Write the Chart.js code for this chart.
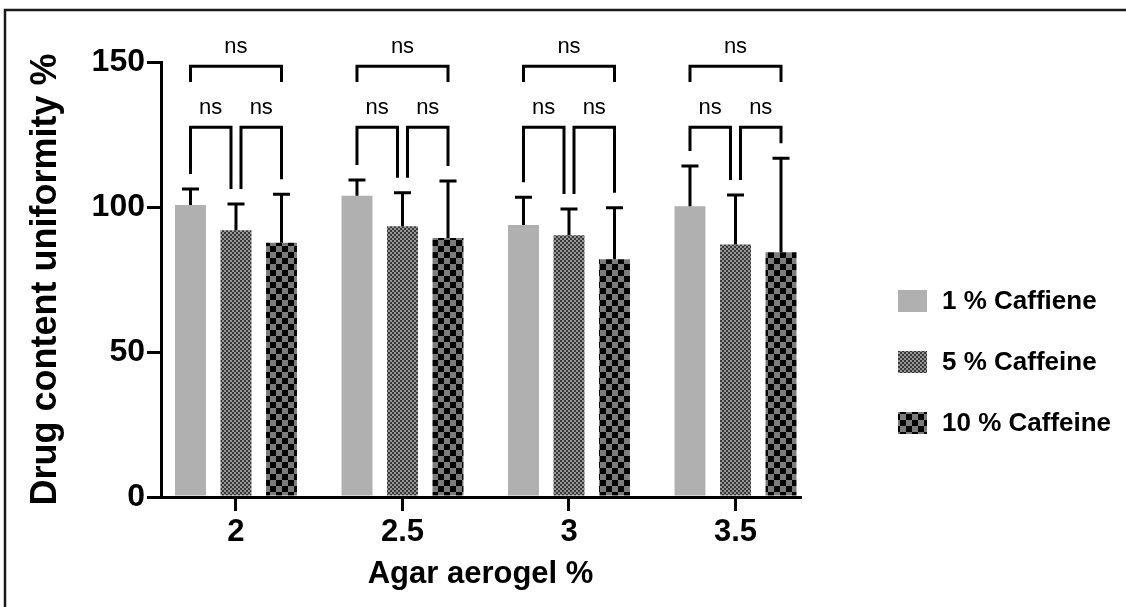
<!DOCTYPE html>
<html>
<head>
<meta charset="utf-8">
<title>Drug content uniformity</title>
<script src="https://cdn.jsdelivr.net/npm/chart.js@4.4.1/dist/chart.umd.min.js"></script>
<style>
  html, body { margin: 0; padding: 0; background: #fff; }
  #wrap { width: 1126px; height: 607px; }
</style>
</head>
<body>
<div id="wrap"><canvas id="uniformity" width="1126" height="607"></canvas></div>
<script>
// Agar aerogel concentrations (x) and tick text
const agarLevels = [2, 2.5, 3, 3.5];
const agarTickLabels = ['2', '2.5', '3', '3.5'];
const yTicks = [0, 50, 100, 150];

// Mean drug content (%) and SD per caffeine loading
const seriesLabels = ['1 % Caffiene', '5 % Caffeine', '10 % Caffeine'];
const caffeine1Mean = [100.7, 103.9, 93.8, 100.3];
const caffeine1Sd = [5.5, 5.4, 9.6, 13.8];
const caffeine5Mean = [92.0, 93.4, 90.3, 87.1];
const caffeine5Sd = [9.0, 11.5, 9.0, 17.0];
const caffeine10Mean = [87.7, 89.3, 82.0, 84.4];
const caffeine10Sd = [16.7, 19.7, 17.7, 32.4];

// significance label for every comparison (1-5, 5-10, 1-10)
const sigLabels = ['ns', 'ns', 'ns'];

const FONT = "Arial, 'Liberation Sans', Helvetica, sans-serif";

// hatch-like fills used by Prism style bars
function makePattern(size, bg, fg, squares) {
  const c = document.createElement('canvas');
  c.width = size; c.height = size;
  const g = c.getContext('2d');
  g.fillStyle = bg;
  g.fillRect(0, 0, size, size);
  g.fillStyle = fg;
  squares.forEach(s => g.fillRect(s[0], s[1], s[2], s[3]));
  return g.createPattern(c, 'repeat');
}

const ctx = document.getElementById('uniformity').getContext('2d');
const fineChecker = makePattern(4, '#959595', '#383838', [[0, 0, 2, 2], [2, 2, 2, 2]]);
const coarseChecker = makePattern(12, '#7c7c7c', '#000000', [[0, 0, 6, 6], [6, 6, 6, 6]]);

function toPoints(means) {
  return agarLevels.map((x, i) => ({ x: x, y: means[i] }));
}

// frame around the figure (only left/top edges visible)
const framePlugin = {
  id: 'frame',
  beforeDraw(chart) {
    const c = chart.ctx;
    c.save();
    c.strokeStyle = '#1a1a1a';
    c.lineWidth = 2.5;
    c.beginPath();
    c.moveTo(5, chart.height);
    c.lineTo(5, 10);
    c.lineTo(chart.width, 10);
    c.stroke();
    c.restore();
  }
};

// upper SD whiskers
const errorBarPlugin = {
  id: 'errorBars',
  afterDatasetsDraw(chart) {
    const c = chart.ctx;
    const y = chart.scales.y;
    c.save();
    c.strokeStyle = '#000';
    c.lineWidth = 3;
    chart.data.datasets.forEach((ds, di) => {
      const meta = chart.getDatasetMeta(di);
      meta.data.forEach((bar, i) => {
        const top = y.getPixelForValue(ds.data[i].y + ds.sd[i]);
        c.beginPath();
        c.moveTo(bar.x, bar.y);
        c.lineTo(bar.x, top);
        c.moveTo(bar.x - 8.5, top);
        c.lineTo(bar.x + 8.5, top);
        c.stroke();
      });
    });
    c.restore();
  }
};

// multiple-comparison brackets above each group
const bracketPlugin = {
  id: 'brackets',
  afterDatasetsDraw(chart) {
    const c = chart.ctx;
    const y = chart.scales.y;
    const sets = chart.data.datasets;
    const metas = sets.map((ds, di) => chart.getDatasetMeta(di));
    const lowY = y.getPixelForValue(127.5);
    const highY = y.getPixelForValue(148.5);
    const highLeg = y.getPixelForValue(143.1);
    c.save();
    c.strokeStyle = '#000';
    c.lineWidth = 3;
    c.lineCap = 'butt';
    c.fillStyle = '#000';
    c.font = '22px ' + FONT;
    c.textAlign = 'center';
    c.textBaseline = 'middle';
    agarLevels.forEach((lvl, i) => {
      const xs = metas.map(m => m.data[i].x);
      const legs = sets.map(ds => y.getPixelForValue(ds.data[i].y + ds.sd[i]) - 15);
      const pairs = [[xs[0], legs[0], xs[1] - 5, legs[1]], [xs[1] + 5, legs[1], xs[2], legs[2]]];
      pairs.forEach((p, k) => {
        c.beginPath();
        c.moveTo(p[0], p[1]);
        c.lineTo(p[0], lowY);
        c.lineTo(p[2], lowY);
        c.lineTo(p[2], p[3]);
        c.stroke();
        c.fillText(sigLabels[k], (p[0] + p[2]) / 2, y.getPixelForValue(134));
      });
      c.beginPath();
      c.moveTo(xs[0], highLeg);
      c.lineTo(xs[0], highY);
      c.lineTo(xs[2], highY);
      c.lineTo(xs[2], highLeg);
      c.stroke();
      c.fillText(sigLabels[2], (xs[0] + xs[2]) / 2, y.getPixelForValue(155.2));
    });
    c.restore();
  }
};

// legend on the right with pattern swatches
const sideLegendPlugin = {
  id: 'sideLegend',
  afterDraw(chart) {
    const c = chart.ctx;
    const rows = [301, 362, 423];
    c.save();
    c.font = 'bold 26px ' + FONT;
    c.textBaseline = 'middle';
    c.textAlign = 'left';
    chart.data.datasets.forEach((ds, i) => {
      c.fillStyle = ds.backgroundColor;
      c.fillRect(898, rows[i] - 11, 29, 22);
      c.fillStyle = '#000';
      c.fillText(ds.label, 942, rows[i] + 1);
    });
    c.restore();
  }
};

new Chart(ctx, {
  type: 'bar',
  data: {
    datasets: [
      { label: seriesLabels[0], data: toPoints(caffeine1Mean), sd: caffeine1Sd, backgroundColor: '#b0b0b0' },
      { label: seriesLabels[1], data: toPoints(caffeine5Mean), sd: caffeine5Sd, backgroundColor: fineChecker },
      { label: seriesLabels[2], data: toPoints(caffeine10Mean), sd: caffeine10Sd, backgroundColor: coarseChecker }
    ]
  },
  options: {
    responsive: false,
    animation: false,
    devicePixelRatio: 1,
    categoryPercentage: 0.82,
    barPercentage: 0.68,
    layout: { padding: { top: 62, right: 326, left: 0, bottom: 0 } },
    plugins: {
      legend: { display: false },
      tooltip: { enabled: false }
    },
    scales: {
      x: {
        type: 'linear',
        min: 1.7748,
        max: 3.6937,
        offset: false,
        z: 1,
        afterBuildTicks(scale) {
          scale.ticks = agarLevels.map(v => ({ value: v }));
        },
        afterFit(scale) { scale.height = 110; },
        ticks: {
          color: '#000',
          padding: 3,
          font: { family: FONT, size: 31, weight: 'bold' },
          callback: (v) => agarTickLabels[agarLevels.indexOf(v)]
        },
        grid: { offset: false, drawOnChartArea: false, tickLength: 14, lineWidth: 3, color: '#000' },
        border: { display: true, width: 3, color: '#000' },
        title: {
          display: true,
          text: 'Agar aerogel %',
          color: '#000',
          font: { family: FONT, size: 31, weight: 'bold' },
          padding: { top: 0, bottom: 14 }
        }
      },
      y: {
        min: 0,
        max: 150,
        z: 1,
        afterBuildTicks(scale) {
          scale.ticks = yTicks.map(v => ({ value: v }));
        },
        afterFit(scale) { scale.width = 161; },
        ticks: {
          color: '#000',
          padding: 2,
          font: { family: FONT, size: 32, weight: 'bold' }
        },
        grid: { drawOnChartArea: false, tickLength: 14, lineWidth: 3, color: '#000' },
        border: { display: true, width: 3, color: '#000' },
        title: {
          display: true,
          text: 'Drug content uniformity %',
          color: '#000',
          font: { family: FONT, size: 36, weight: 'bold' },
          padding: { top: 24, bottom: 0 }
        }
      }
    }
  },
  plugins: [framePlugin, errorBarPlugin, bracketPlugin, sideLegendPlugin]
});
</script>
</body>
</html>
